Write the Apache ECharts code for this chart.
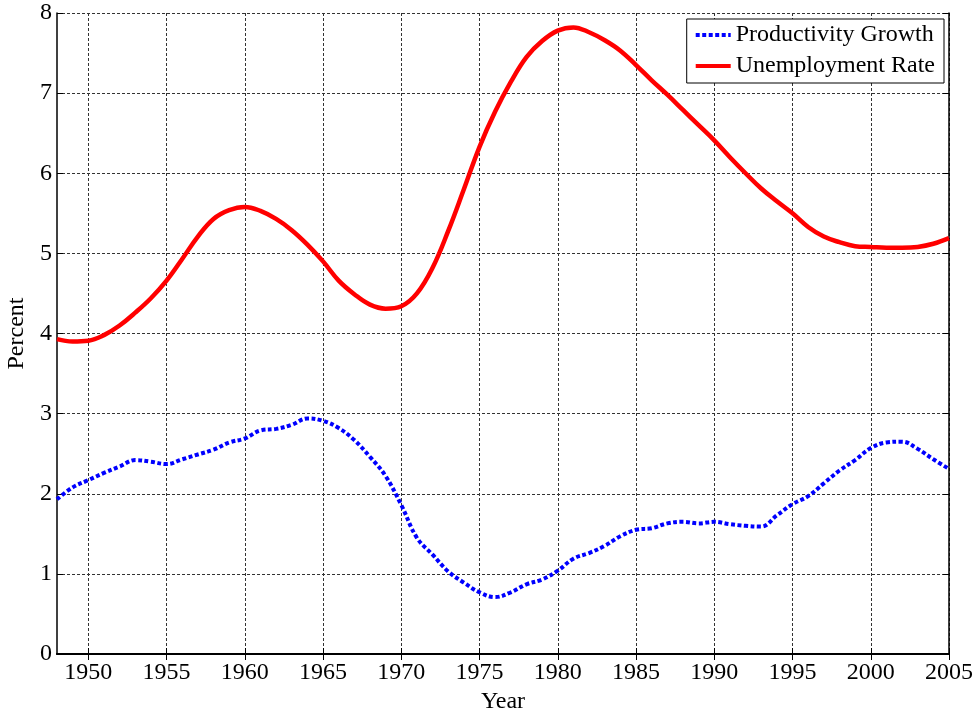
<!DOCTYPE html>
<html>
<head>
<meta charset="utf-8">
<script src="https://cdn.jsdelivr.net/npm/echarts@6/dist/echarts.min.js"></script>
<style>
  html, body { margin: 0; padding: 0; background: #fff; }
  #chart { width: 979px; height: 711px; }
</style>
</head>
<body>
<div id="chart"></div>
<script>
// years 1948..2005
const years = [
  1948, 1949, 1950, 1951, 1952, 1953, 1954, 1955, 1956, 1957,
  1958, 1959, 1960, 1961, 1962, 1963, 1964, 1965, 1966, 1967,
  1968, 1969, 1970, 1971, 1972, 1973, 1974, 1975, 1976, 1977,
  1978, 1979, 1980, 1981, 1982, 1983, 1984, 1985, 1986, 1987,
  1988, 1989, 1990, 1991, 1992, 1993, 1994, 1995, 1996, 1997,
  1998, 1999, 2000, 2001, 2002, 2003, 2004, 2005
];

const productivity = [
  1.93, 2.08, 2.17, 2.26, 2.34, 2.42, 2.40, 2.37, 2.43, 2.49,
  2.55, 2.64, 2.69, 2.79, 2.81, 2.86, 2.94, 2.91, 2.82, 2.67,
  2.46, 2.22, 1.86, 1.45, 1.24, 1.03, 0.89, 0.77, 0.71, 0.77,
  0.87, 0.93, 1.04, 1.19, 1.26, 1.35, 1.47, 1.55, 1.57, 1.63,
  1.65, 1.63, 1.65, 1.62, 1.60, 1.59, 1.73, 1.87, 1.97, 2.13,
  2.29, 2.42, 2.57, 2.64, 2.65, 2.56, 2.43, 2.31
];

const unemployment = [
  3.93, 3.90, 3.91, 3.98, 4.10, 4.26, 4.44, 4.66, 4.93, 5.21,
  5.43, 5.54, 5.58, 5.53, 5.43, 5.29, 5.11, 4.90, 4.66, 4.49,
  4.36, 4.31, 4.34, 4.50, 4.82, 5.28, 5.80, 6.33, 6.77, 7.14,
  7.45, 7.65, 7.78, 7.82, 7.76, 7.66, 7.53, 7.35, 7.16, 6.98,
  6.79, 6.60, 6.41, 6.20, 6.00, 5.81, 5.65, 5.50, 5.33, 5.21,
  5.14, 5.09, 5.08, 5.07, 5.07, 5.08, 5.12, 5.19
];

const xTicks = [1950, 1955, 1960, 1965, 1970, 1975, 1980, 1985, 1990, 1995, 2000, 2005];

const font = "'Liberation Serif', 'DejaVu Serif', serif";

const gridLine = { show: true, lineStyle: { color: '#333', width: 1, type: [3, 2] } };
const frameLine = { show: true, lineStyle: { color: '#000', width: 1.5 } };
const innerTick = { show: true, inside: true, length: 6, lineStyle: { color: '#000', width: 1 } };

const chart = echarts.init(document.getElementById('chart'), null, { renderer: 'canvas' });

chart.setOption({
  backgroundColor: '#fff',
  animation: false,
  grid: { left: 57, right: 30, top: 13, bottom: 57, show: false, outerBoundsMode: 'none', containLabel: false },
  legend: {
    orient: 'vertical',
    right: 35,
    top: 19,
    padding: [4, 9, 5, 7],
    itemGap: 7,
    itemWidth: 35,
    itemHeight: 14,
    borderColor: '#000',
    borderWidth: 1,
    borderRadius: 0,
    backgroundColor: '#fff',
    itemStyle: { opacity: 0 },
    lineStyle: { width: 4 },
    textStyle: { fontFamily: font, fontSize: 24, color: '#000' },
    data: ['Productivity Growth', 'Unemployment Rate']
  },
  xAxis: [
    {
      type: 'value',
      min: 1948,
      max: 2005,
      name: 'Year',
      nameLocation: 'middle',
      nameGap: 29,
      nameTextStyle: { fontFamily: font, fontSize: 24, color: '#000' },
      axisLine: { show: true, lineStyle: { color: '#000', width: 2 } },
      axisTick: Object.assign({ customValues: xTicks }, innerTick),
      axisLabel: {
        customValues: xTicks,
        formatter: (v) => String(v),
        fontFamily: font, fontSize: 24, color: '#000', margin: 7
      },
      splitLine: gridLine
    },
    {
      type: 'value',
      position: 'top',
      min: 1948,
      max: 2005,
      axisLine: frameLine,
      axisTick: Object.assign({ customValues: xTicks }, innerTick),
      axisLabel: { show: false, customValues: xTicks },
      splitLine: { show: false }
    }
  ],
  yAxis: [
    {
      type: 'value',
      min: 0,
      max: 8,
      interval: 1,
      name: 'Percent',
      nameLocation: 'middle',
      nameGap: 23,
      nameTextStyle: { fontFamily: font, fontSize: 24, color: '#000' },
      axisLine: frameLine,
      axisTick: innerTick,
      axisLabel: { fontFamily: font, fontSize: 24, color: '#000', margin: 5 },
      splitLine: gridLine
    },
    {
      type: 'value',
      position: 'right',
      min: 0,
      max: 8,
      interval: 1,
      axisLine: frameLine,
      axisTick: innerTick,
      axisLabel: { show: false },
      splitLine: { show: false }
    }
  ],
  series: [
    {
      name: 'Productivity Growth',
      type: 'line',
      data: years.map((y, i) => [y, productivity[i]]),
      showSymbol: false,
      symbol: 'none',
      smooth: 0.4,
      itemStyle: { color: '#0000ff' },
      lineStyle: { color: '#0000ff', width: 4, type: [4, 2.5] }
    },
    {
      name: 'Unemployment Rate',
      type: 'line',
      data: years.map((y, i) => [y, unemployment[i]]),
      showSymbol: false,
      symbol: 'none',
      smooth: 0.4,
      itemStyle: { color: '#ff0000' },
      lineStyle: { color: '#ff0000', width: 4.5 }
    }
  ]
});
</script>
</body>
</html>
